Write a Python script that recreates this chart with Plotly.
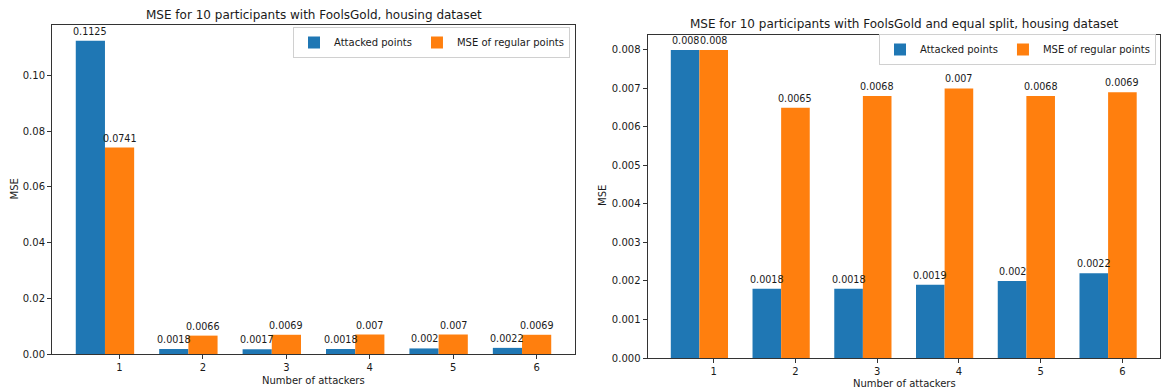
import plotly.graph_objects as go

# Number of attackers on the x axis
attackers = [1, 2, 3, 4, 5, 6]

# FoolsGold, housing dataset
fg_attacked = [0.1125, 0.0018, 0.0017, 0.0018, 0.002, 0.0022]
fg_regular = [0.0741, 0.0066, 0.0069, 0.007, 0.007, 0.0069]

# FoolsGold with equal split, housing dataset
eq_attacked = [0.008, 0.0018, 0.0018, 0.0019, 0.002, 0.0022]
eq_regular = [0.008, 0.0065, 0.0068, 0.007, 0.0068, 0.0069]

left_yticks = [0.0, 0.02, 0.04, 0.06, 0.08, 0.10]
right_yticks = [0.0, 0.001, 0.002, 0.003, 0.004, 0.005, 0.006, 0.007, 0.008]

BAR_W = 0.35
BLUE = "#1f77b4"
ORANGE = "#ff7f0e"
TXT = "#1a1a1a"
FONT = "DejaVu Sans"
W, H = 1164, 390


def px_x(p):
    return p / W


def px_y(p):
    return (H - p) / H


def x_range():
    lo = min(attackers) - BAR_W - BAR_W / 2
    hi = max(attackers) + BAR_W / 2
    pad = (hi - lo) * 0.05
    return [lo - pad, hi + pad]


fig = go.Figure()


def add_pair(attacked, regular, xa, ya, legend):
    xs_att = [a - BAR_W for a in attackers]
    fig.add_trace(go.Bar(
        x=xs_att, y=attacked, width=BAR_W,
        name="Attacked points", marker=dict(color=BLUE, line=dict(width=0)),
        xaxis=xa, yaxis=ya, legend=legend, hoverinfo="skip",
    ))
    fig.add_trace(go.Bar(
        x=attackers, y=regular, width=BAR_W,
        name="MSE of regular points", marker=dict(color=ORANGE, line=dict(width=0)),
        xaxis=xa, yaxis=ya, legend=legend, hoverinfo="skip",
    ))
    # value labels just above every bar, drawn over all bars
    for xv, yv in zip(xs_att + attackers, attacked + regular):
        fig.add_annotation(
            x=xv, y=yv, xref=xa, yref=ya, text=str(yv),
            xanchor="center", yanchor="bottom", yshift=2, showarrow=False,
            font=dict(family=FONT, size=9.6, color=TXT),
        )


add_pair(fg_attacked, fg_regular, "x", "y", "legend")
add_pair(eq_attacked, eq_regular, "x2", "y2", "legend2")

axis_common = dict(
    showline=True, linecolor="#333333", linewidth=1, mirror=True,
    showgrid=False, zeroline=False, ticks="outside", ticklen=4,
    tickcolor="#333333", tickfont=dict(family=FONT, size=10, color=TXT),
    automargin=False,
)

legend_common = dict(
    orientation="h", xanchor="right", yanchor="top",
    bgcolor="rgba(255,255,255,0.8)", bordercolor="#d0d0d0", borderwidth=1,
    font=dict(family=FONT, size=10, color=TXT),
)

fig.update_layout(
    width=W, height=H,
    margin=dict(l=0, r=0, t=0, b=0, autoexpand=False),
    paper_bgcolor="white", plot_bgcolor="white",
    barmode="overlay",
    font=dict(family=FONT, size=10, color=TXT),
    xaxis=dict(domain=[px_x(52), px_x(575)], range=x_range(),
               tickvals=attackers, anchor="y", **axis_common),
    yaxis=dict(domain=[px_y(354), px_y(25)], range=[0, max(fg_attacked + fg_regular) * 1.05],
               tickvals=left_yticks, ticktext=[f"{v:.2f}" for v in left_yticks],
               anchor="x", **axis_common),
    xaxis2=dict(domain=[px_x(647.5), px_x(1160)], range=x_range(),
                tickvals=attackers, anchor="y2", **axis_common),
    yaxis2=dict(domain=[px_y(358), px_y(34.5)], range=[0, max(eq_attacked + eq_regular) * 1.05],
                tickvals=right_yticks, ticktext=[f"{v:.3f}" for v in right_yticks],
                anchor="x2", **axis_common),
    legend=dict(x=px_x(570), y=px_y(27), **legend_common),
    legend2=dict(x=px_x(1156), y=px_y(34), **legend_common),
)

annots = [
    dict(text="MSE for 10 participants with FoolsGold, housing dataset",
         x=px_x(313.5), y=px_y(15), size=12, angle=0),
    dict(text="MSE for 10 participants with FoolsGold and equal split, housing dataset",
         x=px_x(904), y=px_y(24), size=12, angle=0),
    dict(text="Number of attackers", x=px_x(313.5), y=px_y(380), size=10, angle=0),
    dict(text="Number of attackers", x=px_x(904), y=px_y(383), size=10, angle=0),
    dict(text="MSE", x=px_x(14), y=px_y(189.5), size=10, angle=-90),
    dict(text="MSE", x=px_x(602), y=px_y(196), size=10, angle=-90),
]
for a in annots:
    fig.add_annotation(text=a["text"], x=a["x"], y=a["y"], xref="paper", yref="paper",
                       xanchor="center", yanchor="middle", showarrow=False,
                       textangle=a["angle"],
                       font=dict(family=FONT, size=a["size"], color=TXT))

fig.write_html("out.html")
